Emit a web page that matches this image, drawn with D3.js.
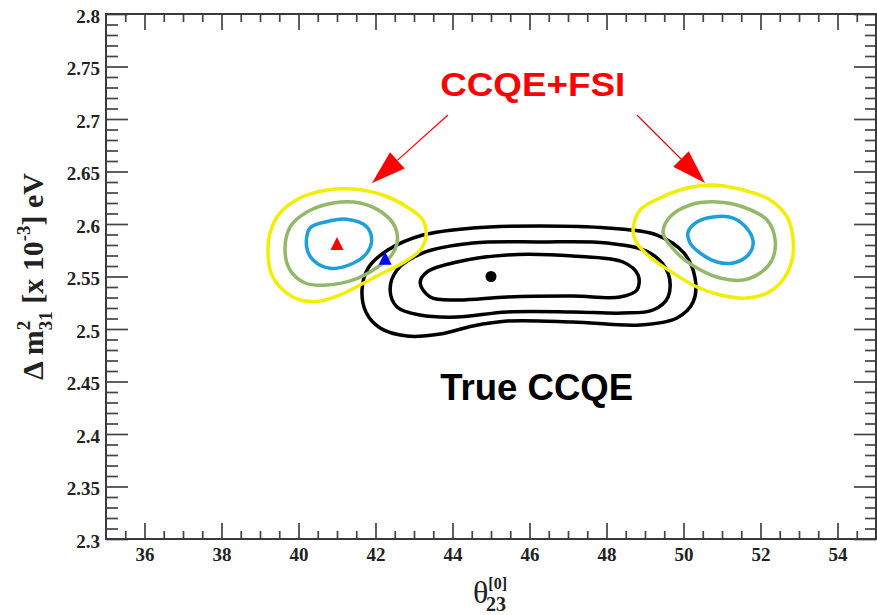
<!DOCTYPE html>
<html>
<head>
<meta charset="utf-8">
<script src="https://cdn.jsdelivr.net/npm/d3@7"></script>
<style>
  body { margin: 0; background: #fff; }
</style>
</head>
<body>
<script>
// contour points [theta23, dm31]
var leftYellow = [[39.21,2.5705],[39.26,2.5914],[39.52,2.6105],[40.04,2.6248],[40.74,2.6324],[41.42,2.6333],[42.19,2.6276],[42.82,2.6162],[43.23,2.6038],[43.31,2.5876],[43.16,2.5752],[42.71,2.5629],[42.19,2.5533],[41.60,2.5419],[41.08,2.5324],[40.56,2.5267],[40.04,2.5276],[39.60,2.5371],[39.31,2.5514]]
var leftGreen = [[39.65,2.5752],[39.78,2.5971],[40.22,2.6114],[40.90,2.62],[41.60,2.62],[42.19,2.6105],[42.51,2.5971],[42.56,2.5819],[42.38,2.5686],[41.94,2.5562],[41.42,2.5467],[40.74,2.5419],[40.17,2.5438],[39.78,2.5562]]
var leftCyan = [[40.21,2.5784],[40.30,2.5962],[40.73,2.6022],[41.25,2.6045],[41.77,2.5974],[41.90,2.5848],[41.77,2.5721],[41.42,2.5626],[40.82,2.5578],[40.38,2.5657]]

var trueOuter = [[41.65,2.5371],[41.81,2.5581],[42.32,2.5752],[43.23,2.5895],[44.53,2.5962],[46.27,2.5981],[48.01,2.5962],[49.31,2.5895],[50.01,2.5724],[50.30,2.5486],[50.25,2.5257],[49.83,2.5105],[48.87,2.5038],[47.13,2.5067],[45.42,2.5076],[44.53,2.5029],[43.68,2.4952],[42.82,2.4933],[42.12,2.501],[41.75,2.5162]]
var trueMiddle = [[42.38,2.5371],[42.56,2.5562],[43.23,2.5724],[44.53,2.5819],[46.27,2.5829],[48.01,2.5819],[49.13,2.5724],[49.60,2.5533],[49.60,2.5305],[49.21,2.5181],[48.43,2.5152],[47.13,2.5162],[45.42,2.5162],[44.12,2.5114],[43.16,2.5133],[42.56,2.521]]
var trueInner = [[43.16,2.5438],[43.34,2.5543],[44.12,2.5638],[45.42,2.5705],[47.13,2.5695],[48.43,2.5638],[48.82,2.5514],[48.79,2.5371],[48.35,2.5305],[47.13,2.5314],[45.42,2.5305],[44.12,2.5276],[43.42,2.5305]]

var rightYellow = [[48.69,2.5943],[48.87,2.6133],[49.39,2.6248],[50.09,2.6343],[50.77,2.6371],[51.55,2.6324],[52.25,2.6229],[52.69,2.6067],[52.84,2.5876],[52.82,2.5657],[52.58,2.5467],[52.17,2.5343],[51.65,2.5295],[50.95,2.5324],[50.35,2.54],[49.73,2.5533],[49.13,2.5686],[48.79,2.5819]]
var rightGreen = [[49.47,2.5914],[49.65,2.6067],[50.17,2.6181],[50.87,2.621],[51.55,2.6162],[52.17,2.6038],[52.38,2.5848],[52.30,2.5657],[51.99,2.5533],[51.55,2.5467],[50.95,2.5486],[50.35,2.5581],[49.83,2.5724]]
var rightCyan = [[50.12,2.5924],[50.35,2.6019],[50.77,2.6067],[51.29,2.6057],[51.68,2.5943],[51.81,2.5819],[51.68,2.5705],[51.29,2.5629],[50.87,2.5638],[50.43,2.5724],[50.17,2.5819]]

var bestFsi = [41.0, 2.58]
var bestOther = [42.25, 2.566]
var bestTrue = [45.0, 2.55]

var xMajor = [36,38,40,42,44,46,48,50,52,54]
var yMajor = [2.3,2.35,2.4,2.45,2.5,2.55,2.6,2.65,2.7,2.75,2.8]

// annotation anchors (data units)
var fsiLabel = [43.68, 2.722]
var trueLabel = [43.68, 2.432]
var arrowLeft = [[43.88,2.7038],[41.91,2.639]]
var arrowRight = [[48.79,2.7038],[50.56,2.639]]

const width = 877
const height = 615

var x = d3.scaleLinear().domain([35,55]).range([106,876])
var y = d3.scaleLinear().domain([2.3,2.8]).range([539,14])

const svg = d3.select('body').append('svg')
  .attr('width', width)
  .attr('height', height)

var xMinor = d3.range(35.5, 55, 0.5).filter(v => v % 2 != 0)
var yMinor = d3.range(0, 51).map(i => 2.3 + i*0.01).filter((v,i) => i % 5 != 0)

function styleAxis(g) {
  g.select('.domain').remove()
  g.selectAll('line').attr('stroke', '#444').attr('stroke-width', 1.7)
  g.selectAll('text')
    .attr('fill', '#222')
    .style('font-family', '"Liberation Serif", "Times New Roman", serif')
    .style('font-weight', 'bold')
    .style('font-size', '19px')
}

// bottom
svg.append('g').attr('transform','translate(0,539)')
  .call(d3.axisBottom(x).tickValues(xMajor).tickSize(-16).tickPadding(9).tickFormat(d => d))
  .call(styleAxis)
svg.append('g').attr('transform','translate(0,539)')
  .call(d3.axisBottom(x).tickValues(xMinor).tickSize(-8).tickFormat(''))
  .call(styleAxis)
// top
svg.append('g').attr('transform','translate(0,14)')
  .call(d3.axisTop(x).tickValues(xMajor).tickSize(-16).tickFormat(''))
  .call(styleAxis)
svg.append('g').attr('transform','translate(0,14)')
  .call(d3.axisTop(x).tickValues(xMinor).tickSize(-8).tickFormat(''))
  .call(styleAxis)
// left
var yAxisGroup = svg.append('g').attr('transform','translate(106,0)')
  .call(d3.axisLeft(y).tickValues(yMajor).tickSize(-22).tickPadding(6).tickFormat(d => String(d)))
  .call(styleAxis)
yAxisGroup.selectAll('text').attr('y', 2)
svg.append('g').attr('transform','translate(106,0)')
  .call(d3.axisLeft(y).tickValues(yMinor).tickSize(-12).tickFormat(''))
  .call(styleAxis)
// right
svg.append('g').attr('transform','translate(876,0)')
  .call(d3.axisRight(y).tickValues(yMajor).tickSize(-22).tickFormat(''))
  .call(styleAxis)
svg.append('g').attr('transform','translate(876,0)')
  .call(d3.axisRight(y).tickValues(yMinor).tickSize(-11).tickFormat(''))
  .call(styleAxis)

// frame
svg.append('rect')
  .attr('x', x(35)).attr('y', y(2.8))
  .attr('width', x(55)-x(35)).attr('height', y(2.3)-y(2.8))
  .attr('fill', 'none').attr('stroke', '#3a3a3a').attr('stroke-width', 2)

var line = d3.line()
  .x(d => x(d[0]))
  .y(d => y(d[1]))
  .curve(d3.curveCatmullRomClosed.alpha(0.5))

var contours = [
  {pts: trueOuter, color: '#000', w: 3.5},
  {pts: trueMiddle, color: '#000', w: 3.5},
  {pts: trueInner, color: '#000', w: 3.5},
  {pts: leftYellow, color: '#f2ee00', w: 3.5},
  {pts: leftGreen, color: '#93b86a', w: 3.5},
  {pts: leftCyan, color: '#1e9fd8', w: 3.5},
  {pts: rightYellow, color: '#f2ee00', w: 3.5},
  {pts: rightGreen, color: '#93b86a', w: 3.5},
  {pts: rightCyan, color: '#1e9fd8', w: 3.5}
]

svg.selectAll('path.contour')
  .data(contours)
  .enter()
  .append('path')
  .attr('class', 'contour')
  .attr('d', d => line(d.pts))
  .attr('fill', 'none')
  .attr('stroke', d => d.color)
  .attr('stroke-width', d => d.w)
  .attr('stroke-linejoin', 'round')

// best fit markers
function tri(cx, cy, s) {
  return [[cx, cy - s*0.62], [cx - s/2, cy + s*0.38], [cx + s/2, cy + s*0.38]].join(' ')
}
svg.append('polygon').attr('points', tri(x(bestFsi[0]), y(bestFsi[1]), 13)).attr('fill', '#f00')
svg.append('polygon').attr('points', tri(x(bestOther[0]), y(bestOther[1]), 13)).attr('fill', '#00f')
svg.append('circle').attr('cx', x(bestTrue[0])).attr('cy', y(bestTrue[1])).attr('r', 5.5).attr('fill', '#000')

// arrows
function arrow(a) {
  var x1 = x(a[0][0]), y1 = y(a[0][1]), x2 = x(a[1][0]), y2 = y(a[1][1])
  var len = Math.hypot(x2-x1, y2-y1)
  var ux = (x2-x1)/len, uy = (y2-y1)/len
  var hl = 34, hw = 11
  var bx = x2 - ux*hl, by = y2 - uy*hl
  svg.append('line')
    .attr('x1', x1).attr('y1', y1).attr('x2', bx).attr('y2', by)
    .attr('stroke', '#f00').attr('stroke-width', 1.2)
  svg.append('polygon')
    .attr('points', [[x2, y2], [bx - uy*hw, by + ux*hw], [bx + uy*hw, by - ux*hw]].join(' '))
    .attr('fill', '#f00')
}
arrow(arrowLeft)
arrow(arrowRight)

svg.append('text')
  .attr('x', x(fsiLabel[0])).attr('y', y(fsiLabel[1]))
  .attr('textLength', 185).attr('lengthAdjust', 'spacingAndGlyphs')
  .style('font-family', '"Liberation Sans", Arial, sans-serif')
  .style('font-weight', 'bold').style('font-size', '34px')
  .attr('fill', '#f00')
  .text('CCQE+FSI')

svg.append('text')
  .attr('x', x(trueLabel[0])).attr('y', y(trueLabel[1]))
  .attr('textLength', 193).attr('lengthAdjust', 'spacingAndGlyphs')
  .style('font-family', '"Liberation Sans", Arial, sans-serif')
  .style('font-weight', 'bold').style('font-size', '37px')
  .attr('fill', '#000')
  .text('True CCQE')

// axis titles
var xt = svg.append('text')
  .attr('x', 473).attr('y', 603)
  .style('font-family', '"Liberation Serif", "Times New Roman", serif')
  .attr('fill', '#222')
xt.append('tspan').style('font-size', '32px').text('θ')
xt.append('tspan').attr('dy', -14).style('font-size', '16px').style('font-weight', 'bold').text('[0]')
xt.append('tspan').attr('dx', -21).attr('dy', 22).style('font-size', '20px').style('font-weight', 'bold').text('23')

var yt = svg.append('text')
  .attr('transform', 'translate(43,380) rotate(-90)')
  .style('font-family', '"Liberation Serif", "Times New Roman", serif')
  .style('font-weight', 'bold')
  .attr('fill', '#222')
yt.append('tspan').style('font-size', '30px').text('Δ m')
yt.append('tspan').attr('dy', -13).style('font-size', '19px').text('2')
yt.append('tspan').attr('dx', -9.5).attr('dy', 22).style('font-size', '19px').text('31')
yt.append('tspan').attr('dy', -9).style('font-size', '30px').text(' [x 10')
yt.append('tspan').attr('dy', -13).style('font-size', '19px').text('-3')
yt.append('tspan').attr('dy', 13).style('font-size', '30px').text('] eV')
</script>
</body>
</html>
